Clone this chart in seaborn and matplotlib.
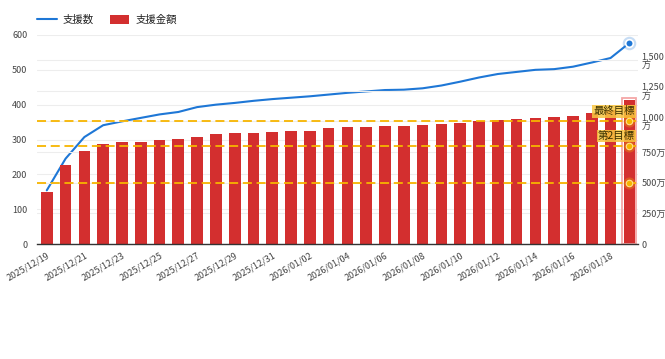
import numpy as np
import pandas as pd
import matplotlib
matplotlib.use("Agg")
import matplotlib.pyplot as plt
import seaborn as sns
from matplotlib.lines import Line2D
from matplotlib.patches import Patch, Rectangle

# ---------------- data ----------------
dates = [
    "2025/12/19", "2025/12/20", "2025/12/21", "2025/12/22", "2025/12/23", "2025/12/24",
    "2025/12/25", "2025/12/26", "2025/12/27", "2025/12/28", "2025/12/29", "2025/12/30",
    "2025/12/31", "2026/01/01", "2026/01/02", "2026/01/03", "2026/01/04", "2026/01/05",
    "2026/01/06", "2026/01/07", "2026/01/08", "2026/01/09", "2026/01/10", "2026/01/11",
    "2026/01/12", "2026/01/13", "2026/01/14", "2026/01/15", "2026/01/16", "2026/01/17",
    "2026/01/18", "2026/01/19",
]
supporters = [154, 245, 307, 341, 352, 362, 372, 379, 393, 400, 405, 411, 416, 420, 424, 429,
              434, 438, 442, 443, 447, 455, 466, 478, 488, 494, 500, 502, 509, 521, 534, 577]
amount_man = [420, 642, 759, 814, 828, 833, 847, 852, 871, 893, 901, 907, 912, 918, 924, 942,
              950, 956, 961, 961, 967, 975, 986, 1000, 1013, 1019, 1030, 1035, 1041, 1067, 1090, 1174]
goal_values = [500, 800, 1000]
goal_labels = ["", "第2目標", "最終目標"]
series_names = ["支援数", "支援金額"]
left_ticks = [0, 100, 200, 300, 400, 500, 600]
right_ticks = [0, 250, 500, 750, 1000, 1250, 1500]
right_tick_labels = ["0", "250万", "500万", "750万", "1,000\n万", "1,250\n万", "1,500\n万"]

# ---------------- style ----------------
RED = "#D32F2F"
BLUE = "#1E77D6"
GOLD = "#F7B500"
GRID = "#EDEDED"
TXT = "#444444"

sns.set_theme(style="white")
plt.rcParams["font.family"] = ["Noto Sans CJK JP", "DejaVu Sans"]

W, H = 665, 359
fig = plt.figure(figsize=(W / 100, H / 100), dpi=100)
ax = fig.add_axes([37 / W, 1 - 244 / H, (638 - 37) / W, (244 - 35) / H])
axl = ax.twinx()

df = pd.DataFrame({"date": dates, "supporters": supporters, "amount": amount_man})

# bars on the right-hand (amount) axis
sns.barplot(data=df, x="date", y="amount", color=RED, saturation=1, width=0.62,
            ax=ax, zorder=2, linewidth=0)
# hover-style highlight of the last bar
last = ax.patches[len(dates) - 1]
bx, bw, bh = last.get_x(), last.get_width(), last.get_height()
ax.add_patch(Rectangle((bx - 0.07, 0), bw + 0.14, bh + 12, fill=False,
                       edgecolor="#F4A7A7", linewidth=1.3, zorder=2.5))

# line on the left-hand (count) axis
sns.lineplot(data=df, x="date", y="supporters", ax=axl, color=BLUE, linewidth=1.5,
             sort=False, zorder=3)
axl.scatter([dates[-1]], [supporters[-1]], s=95, color=BLUE, alpha=0.25, linewidths=0, zorder=4)
axl.scatter([dates[-1]], [supporters[-1]], s=30, color=BLUE, edgecolors="white",
            linewidths=1.2, zorder=5)

# layering: line axis below bar axis (line never overlaps bars)
axl.set_zorder(0)
ax.set_zorder(1)
ax.patch.set_visible(False)
axl.patch.set_visible(False)

# axes limits / ticks
ax.set_xlim(-0.52, len(dates) - 0.54)
ax.set_ylim(0, 1703)
axl.set_ylim(0, 600)

ax.yaxis.tick_right()
axl.yaxis.tick_left()
ax.set_yticks(right_ticks)
ax.set_yticklabels(right_tick_labels, fontsize=6.5, color=TXT, linespacing=1.15)
axl.set_yticks(left_ticks)
axl.set_yticklabels([str(t) for t in left_ticks], fontsize=6.5, color=TXT)
ax.tick_params(axis="y", length=0, pad=2.5)
axl.tick_params(axis="y", length=0, pad=7)

xt = list(range(0, len(dates), 2))
ax.set_xticks(xt)
ax.set_xticklabels([dates[i] for i in xt], rotation=30, ha="right",
                   rotation_mode="anchor", fontsize=6.5, color=TXT)
ax.tick_params(axis="x", length=0, pad=5)

ax.set_xlabel("")
ax.set_ylabel("")
axl.set_xlabel("")
axl.set_ylabel("")

# gridlines
axl.grid(axis="y", color=GRID, linewidth=0.8)
ax.grid(axis="y", color=GRID, linewidth=0.8)
ax.grid(axis="x", visible=False)
ax.set_axisbelow(True)

for s in ["top", "left", "right"]:
    ax.spines[s].set_visible(False)
for s in axl.spines.values():
    s.set_visible(False)
ax.spines["bottom"].set_color("#333333")
ax.spines["bottom"].set_linewidth(1.0)
ax.spines["bottom"].set_zorder(4)

# goal lines
for g, lab in zip(goal_values, goal_labels):
    ax.axhline(g, color=GOLD, linestyle=(0, (5, 2.6)), linewidth=1.3, zorder=3)
    if lab:
        ax.annotate(lab, xy=(1, g), xycoords=("axes fraction", "data"),
                    xytext=(-2.2, 7.2), textcoords="offset points",
                    ha="right", va="center", fontsize=7.5, color="#3a3000", zorder=6,
                    bbox=dict(boxstyle="square,pad=0.12", facecolor="#F9C640",
                              edgecolor="none", alpha=0.85))
ax.scatter([dates[-1]] * len(goal_values), goal_values, s=75, color=GOLD, alpha=0.3,
           linewidths=0, zorder=6)
ax.scatter([dates[-1]] * len(goal_values), goal_values, s=22, color=GOLD,
           edgecolors="#FFE28A", linewidths=0.8, zorder=7)

# legend
handles = [Line2D([], [], color=BLUE, linewidth=1.5),
           Patch(facecolor=RED, edgecolor="none")]
fig.legend(handles, series_names, loc="center left", bbox_to_anchor=(28 / W, 1 - 20 / H),
           ncol=2, frameon=False, fontsize=7.5, handlelength=1.9, handleheight=0.95,
           columnspacing=1.5, handletextpad=0.55, labelcolor="#222222")

fig.savefig("out.png", dpi=100, facecolor="white")
